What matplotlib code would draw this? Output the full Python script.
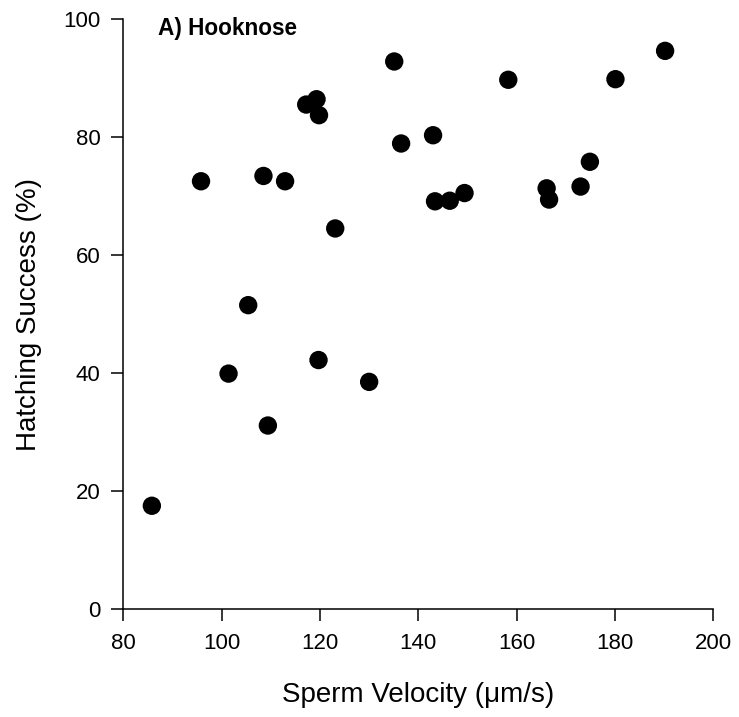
import matplotlib
matplotlib.use("Agg")
import matplotlib.pyplot as plt

plt.rcParams['font.family'] = ['Liberation Sans', 'DejaVu Sans']

# Data
sperm_velocity = [85.8, 101.4, 109.4, 119.7, 130.0, 95.8, 108.5, 112.9, 105.4, 123.1,
                  117.2, 119.3, 119.8, 135.1, 136.5, 143.0, 143.4, 146.4, 149.4, 158.3,
                  166.1, 166.6, 173.0, 174.9, 180.1, 190.2]
hatching_success = [17.5, 39.9, 31.1, 42.2, 38.5, 72.5, 73.4, 72.5, 51.5, 64.5,
                    85.5, 86.4, 83.7, 92.8, 78.9, 80.3, 69.1, 69.2, 70.5, 89.7,
                    71.3, 69.4, 71.6, 75.8, 89.8, 94.6]
x_ticks = [80, 100, 120, 140, 160, 180, 200]
y_ticks = [0, 20, 40, 60, 80, 100]
panel_title = "A) Hooknose"

fig = plt.figure(figsize=(7.39, 7.17), dpi=100)
ax = fig.add_axes([0.1669, 0.1506, 0.7983, 0.8229])

ax.scatter(sperm_velocity, hatching_success, s=175, c='black', edgecolors='none',
           clip_on=False, zorder=3)

ax.set_xlim(80, 200)
ax.set_ylim(0, 100)
ax.set_xticks(x_ticks)
ax.set_yticks(y_ticks)

for side in ['top', 'right']:
    ax.spines[side].set_visible(False)
for side in ['left', 'bottom']:
    ax.spines[side].set_linewidth(1.1)

ax.tick_params(axis='both', direction='out', length=8.5, width=1.1,
               labelsize=16, colors='black')
ax.tick_params(axis='y', pad=8)
ax.tick_params(axis='x', pad=9)

ax.set_xlabel("Sperm Velocity (\u03bcm/s)", fontsize=20, labelpad=20)
ax.set_ylabel("Hatching Success (%)", fontsize=20, labelpad=15)

ax.text(87.0, 97.3, panel_title, fontsize=16.3, fontweight='bold', ha='left',
        va='baseline')

fig.savefig("out.png", dpi=100)
